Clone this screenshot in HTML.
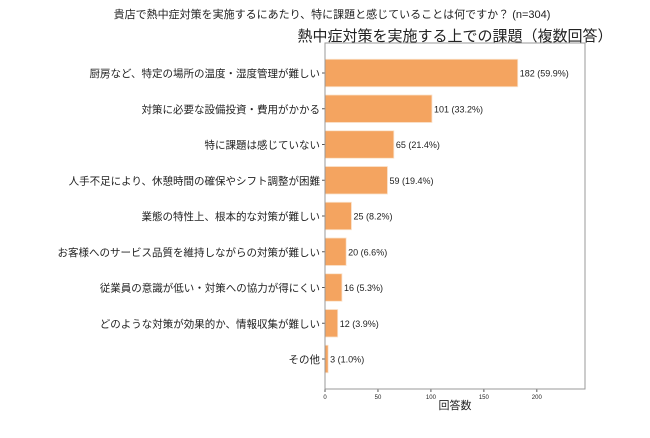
<!DOCTYPE html>
<html><head><meta charset="utf-8"><style>
body{margin:0;background:#fff;}
svg text{font-family:"Liberation Sans","Noto Sans CJK JP",sans-serif;fill:#222;}
</style></head><body>
<svg width="650" height="433" viewBox="0 0 650 433" xmlns="http://www.w3.org/2000/svg">
<text x="332" y="18" text-anchor="middle" font-size="11">貴店で熱中症対策を実施するにあたり、特に課題と感じていることは何ですか？ (n=304)</text>
<text x="455" y="41" text-anchor="middle" font-size="15">熱中症対策を実施する上での課題（複数回答）</text>
<g id="plot"></g>
<rect x="325" y="43" width="260" height="346" fill="none" stroke="#999" stroke-width="1"/>
<text x="455" y="409" text-anchor="middle" font-size="11">回答数</text>
</svg>
<script>
const categories=["厨房など、特定の場所の温度・湿度管理が難しい","対策に必要な設備投資・費用がかかる","特に課題は感じていない","人手不足により、休憩時間の確保やシフト調整が困難","業態の特性上、根本的な対策が難しい","お客様へのサービス品質を維持しながらの対策が難しい","従業員の意識が低い・対策への協力が得にくい","どのような対策が効果的か、情報収集が難しい","その他"];
const values=[182,101,65,59,25,20,16,12,3];
const valueLabels=["182 (59.9%)","101 (33.2%)","65 (21.4%)","59 (19.4%)","25 (8.2%)","20 (6.6%)","16 (5.3%)","12 (3.9%)","3 (1.0%)"];
const xTicks=[0,50,100,150,200];
const NS="http://www.w3.org/2000/svg";
const g=document.getElementById('plot');
const x0=325,x1=585,xMax=245.5;
const xs=v=>x0+v/xMax*(x1-x0);
const yTop=73,step=35.75,bh=27.5;
const yc=i=>yTop+i*step;
function mk(t,a){const e=document.createElementNS(NS,t);for(const k in a)e.setAttribute(k,a[k]);g.appendChild(e);return e;}
categories.forEach((c,i)=>{
 const r=mk('rect',{x:x0,y:yc(i)-bh/2,width:xs(values[i])-x0,height:bh,fill:'#f4a460',stroke:'#fbe3cc','stroke-width':0.8});
 
 
 const l=mk('text',{x:x0-5,y:yc(i)+4,'text-anchor':'end','font-size':'10.5'});l.textContent=c;
 
 
 const tk=mk('line',{x1:x0-3,x2:x0,y1:yc(i),y2:yc(i),stroke:'#555'});
 
 
 const v=mk('text',{x:xs(values[i])+2,y:yc(i)+3.5,'font-size':'9'});v.textContent=valueLabels[i];
 
 
});
xTicks.forEach(t=>{
 const tk=mk('line',{x1:xs(t),x2:xs(t),y1:389,y2:392,stroke:'#555'});
 
 
 const l=mk('text',{x:xs(t),y:399,'text-anchor':'middle','font-size':'6'});l.textContent=t;
 
 
});
</script>
</body></html>
